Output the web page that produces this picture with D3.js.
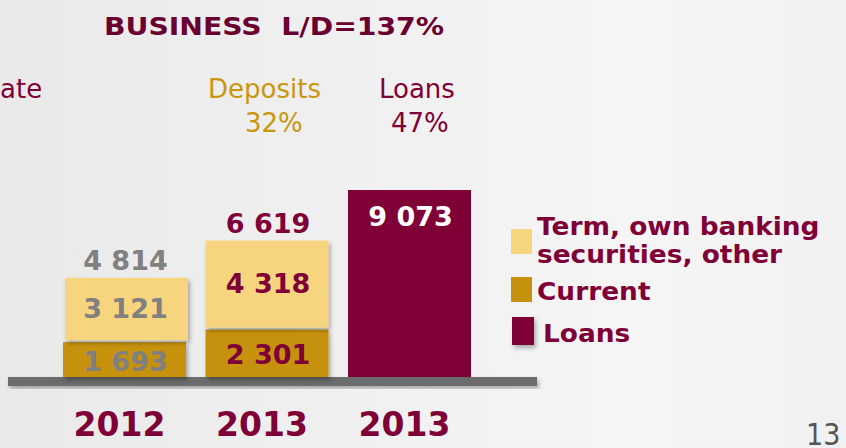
<!DOCTYPE html>
<html>
<head>
<meta charset="utf-8">
<script src="https://cdn.jsdelivr.net/npm/d3@7"></script>
<style>
  html, body { margin: 0; padding: 0; background: #f3f3f3; }
  svg { display: block; }
</style>
</head>
<body>
<svg id="chart" width="846" height="448"></svg>
<script>
// data
const barKeys = ["dep2012", "dep2013", "loans2013"]
const yearLabels = ["2012", "2013", "2013"]
const currentVals = [1693, 2301, 0]
const termVals = [3121, 4318, 0]
const loanVals = [0, 0, 9073]
const totalVals = [4814, 6619, 9073]
const labelColors = ["#808080", "#7f0037", "#ffffff"]
const legendItems = [
    { lines: ["Term, own banking", "securities, other"], color: "#f7d57f" },
    { lines: ["Current"], color: "#c6920c" },
    { lines: ["Loans"], color: "#7f0037" }
]

const maroon = "#7f0037", gold = "#c9960c"
const fmt = d3.formatLocale({ decimal: ".", thousands: " ", grouping: [3], currency: ["", ""] }).format(",d")

const svg = d3.select("#chart")
const W = 846, H = 448

// verdana bold is wider than dejavu bold, so stretch glyphs a bit
function widen(sel, k) {
    sel.each(function() {
        const w = this.getComputedTextLength()
        d3.select(this).attr("textLength", w * k).attr("lengthAdjust", "spacingAndGlyphs")
    })
}

// background + shadow filter
const defs = svg.append("defs")
const bg = defs.append("linearGradient").attr("id", "bg").attr("x1", 0).attr("x2", 1)
bg.append("stop").attr("offset", "0").attr("stop-color", "#e9e9e9")
bg.append("stop").attr("offset", "0.3").attr("stop-color", "#eeeeee")
bg.append("stop").attr("offset", "0.75").attr("stop-color", "#f5f5f5")
bg.append("stop").attr("offset", "1").attr("stop-color", "#f1f1f1")
const sh = defs.append("filter").attr("id", "shadow").attr("x", "-20%").attr("y", "-20%").attr("width", "150%").attr("height", "150%")
sh.append("feDropShadow").attr("dx", 2).attr("dy", 3).attr("stdDeviation", 2).attr("flood-color", "#000").attr("flood-opacity", 0.3)

svg.append("rect").attr("width", W).attr("height", H).attr("fill", "url(#bg)")

// scales
const x = d3.scaleBand().domain(barKeys).range([63, 471]).paddingInner(0.137).paddingOuter(0)
const y = d3.scaleLinear().domain([0, 9073]).range([377, 190])

const g = svg.append("g")

// base line (axis bar)
g.append("rect")
    .attr("x", x.range()[0] - 55).attr("y", y(0))
    .attr("width", x.range()[1] - x.range()[0] + 121).attr("height", 9)
    .attr("fill", "#6c6c6c")
    .attr("filter", "url(#shadow)")

// current segment
g.selectAll("rect.current").data(barKeys).join("rect")
    .attr("class", "current")
    .attr("x", d => x(d)).attr("width", x.bandwidth())
    .attr("y", (d, i) => y(currentVals[i]))
    .attr("height", (d, i) => y(0) - y(currentVals[i]))
    .attr("fill", "#c6920c")
    .attr("filter", "url(#shadow)")

// term segment
g.selectAll("rect.term").data(barKeys).join("rect")
    .attr("class", "term")
    .attr("x", (d, i) => x(d) + (i === 0 ? 2 : 0)).attr("width", x.bandwidth())
    .attr("y", (d, i) => y(currentVals[i] + termVals[i]) )
    .attr("height", (d, i) => Math.max(0, y(currentVals[i]) - y(currentVals[i] + termVals[i]) - 2))
    .attr("fill", "#f7d57f")
    .attr("filter", "url(#shadow)")

// loans
g.selectAll("rect.loans").data(barKeys).join("rect")
    .attr("class", "loans")
    .attr("x", d => x(d)).attr("width", x.bandwidth())
    .attr("y", (d, i) => y(loanVals[i]))
    .attr("height", (d, i) => y(0) - y(loanVals[i]))
    .attr("fill", maroon)

const valFont = "'DejaVu Sans', Verdana, sans-serif"

// segment labels
barKeys.forEach((k, i) => {
    const cx = x(k) + x.bandwidth() / 2 + 1
    if (currentVals[i] > 0) {
        g.append("text").attr("x", cx)
            .attr("y", (y(0) + y(currentVals[i])) / 2 + 11)
            .text(fmt(currentVals[i]))
            .attr("fill", labelColors[i])
    }
    if (termVals[i] > 0) {
        g.append("text").attr("x", cx)
            .attr("y", (y(currentVals[i]) + y(currentVals[i] + termVals[i])) / 2 + 8)
            .text(fmt(termVals[i]))
            .attr("fill", labelColors[i])
    }
    // totals
    const inside = loanVals[i] > 0
    g.append("text").attr("x", cx)
        .attr("y", inside ? y(totalVals[i]) + 36 : y(totalVals[i]) - 8)
        .text(fmt(totalVals[i]))
        .attr("fill", labelColors[i])
})
g.selectAll("text")
    .attr("text-anchor", "middle")
    .attr("font-family", valFont)
    .attr("font-weight", "bold")
    .attr("font-size", 26)
    .call(widen, 1.04)

// year labels
svg.selectAll("text.year").data(barKeys).join("text")
    .attr("class", "year")
    .attr("x", d => x(d) + x.bandwidth() / 2 - 5)
    .attr("y", 436)
    .attr("text-anchor", "middle")
    .attr("font-family", valFont)
    .attr("font-weight", "bold")
    .attr("font-size", 33)
    .attr("fill", maroon)
    .text((d, i) => yearLabels[i])

// title and top notes
svg.append("text").attr("x", 104).attr("y", 35)
    .attr("font-family", valFont).attr("font-weight", "bold").attr("font-size", 25)
    .attr("fill", "#6a0030").attr("xml:space", "preserve")
    .text("BUSINESS  L/D=137%")
    .call(widen, 1.13)

const notes = [
    { t: "ate", x: 0, y: 98, c: maroon },
    { t: "Deposits", x: 208, y: 98, c: gold },
    { t: "32%", x: 245, y: 132, c: gold },
    { t: "Loans", x: 379, y: 98, c: maroon },
    { t: "47%", x: 391, y: 132, c: maroon }
]
svg.selectAll("text.note").data(notes).join("text")
    .attr("class", "note")
    .attr("x", d => d.x).attr("y", d => d.y)
    .attr("font-family", valFont).attr("font-size", 26)
    .attr("fill", d => d.c)
    .text(d => d.t)

// legend
const legY = [229, 277, 317]
const legTextY = [235, 300, 342]
const leg = svg.append("g")
legendItems.forEach((it, i) => {
    const last = i === legendItems.length - 1
    leg.append("rect")
        .attr("x", last ? 512 : 511).attr("y", legY[i])
        .attr("width", last ? 22 : 21).attr("height", last ? 28 : 25)
        .attr("fill", it.color)
        .attr("filter", last ? "url(#shadow)" : null)
    it.lines.forEach((ln, j) => {
        leg.append("text")
            .attr("x", last ? 543 : 537).attr("y", legTextY[i] + j * 28)
            .attr("font-family", valFont).attr("font-weight", "bold").attr("font-size", 24)
            .attr("fill", maroon)
            .text(ln)
            .call(widen, 1.1)
    })
})

// page number
svg.append("text").attr("x", 806).attr("y", 445)
    .attr("font-family", "'DejaVu Sans Condensed', 'DejaVu Sans', sans-serif")
    .attr("font-stretch", "condensed")
    .attr("font-size", 30).attr("fill", "#555")
    .text("13")
</script>
</body>
</html>
